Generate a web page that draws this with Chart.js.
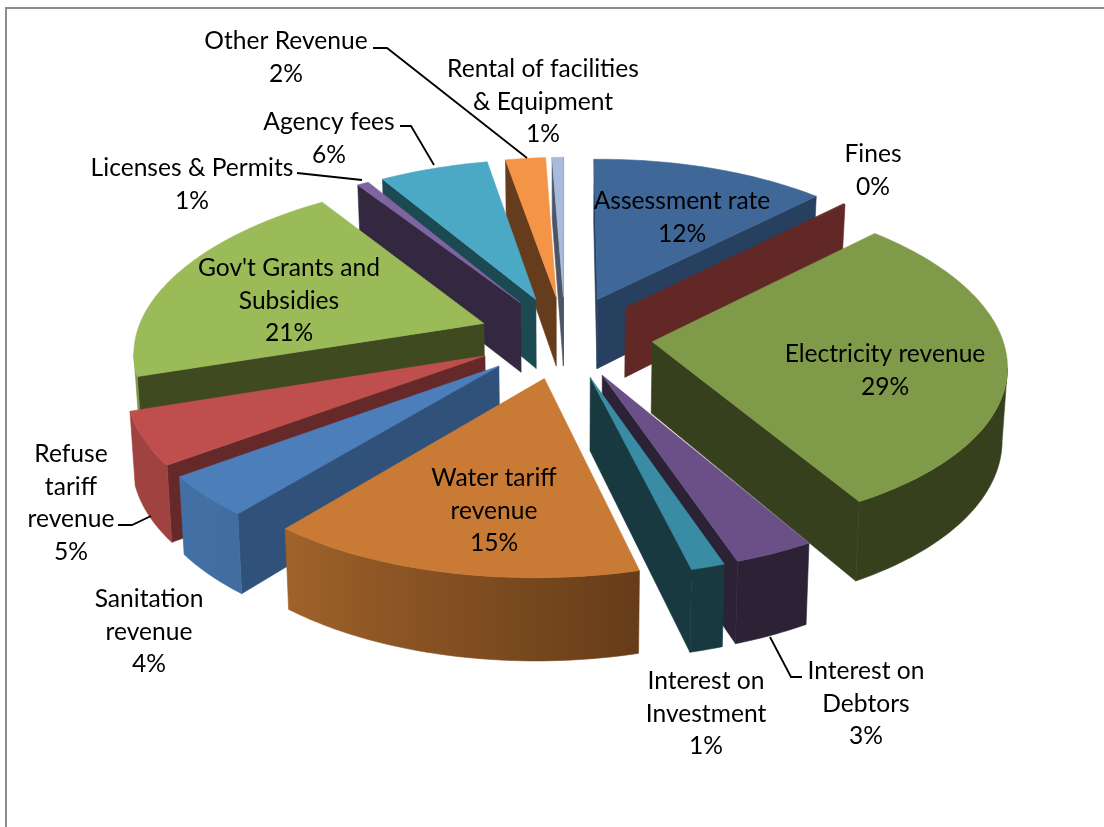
<!DOCTYPE html>
<html><head><meta charset="utf-8">
<style>html,body{margin:0;padding:0;background:#fff}canvas{display:block}</style>
<script src="https://cdn.jsdelivr.net/npm/chart.js@4"></script>
</head><body><canvas id="c" width="1104" height="827"></canvas>
<script>
const categories = ["Assessment rate","Fines","Electricity revenue","Interest on Debtors","Interest on Investment","Water tariff revenue","Sanitation revenue","Refuse tariff revenue","Gov't Grants and Subsidies","Licenses & Permits","Agency fees","Other Revenue","Rental of facilities & Equipment"];
const shares = [12.4,0.1,29.1,3.2,1.35,15.05,4.1,5.2,20.5,0.6,5.7,2.1,0.6];
const topColors = ["#3F6797","#622825","#7F9A48","#6A5086","#3A8CA5","#C97B36","#4C7EBA","#BE4F4C","#9BBB59","#8064A2","#4BA9C5","#F39446","#A9BBDC"];
const wallColors = ["#27405F","#622825","#36401D","#2C2236","#17393F","#643C18","#30527A","#65292A","#3F4A20","#33283F","#1C4A52","#663D1C","#4C5566"];
const labelLines = [["Assessment rate"],["Fines"],["Electricity revenue"],["Interest on","Debtors"],["Interest on","Investment"],["Water tariff","revenue"],["Sanitation","revenue"],["Refuse","tariff","revenue"],["Gov't Grants and","Subsidies"],["Licenses & Permits"],["Agency fees"],["Other Revenue"],["Rental of facilities","& Equipment"]];
const labelCenterX = [682,873,885,866,706,494,149,71,289,192,329,286,543];
const labelFirstY = [201,154,354,671,681,478,599,454,268,168,122,41,69];
const leaderLines = [
  [[373,48],[387,48],[527,158]],
  [[400,126],[411,126],[434,165]],
  [[297,173],[362,180]],
  [[118,525],[132,525],[151,516]],
  [[802,677],[791,677],[770,637]]
];
const view = {cx:565, cy:337, a:350, b:165, k:0.118, h:71, roll:-3, bow:2.7};

function rgb(h){return [1,3,5].map(i=>parseInt(h.substr(i,2),16));}
function mix(a,b,t){const A=rgb(a),B=rgb(b);return `rgb(${A.map((v,i)=>Math.round(v+(B[i]-v)*t)).join(',')})`;}
function project(X,Y,z){
  const s=1/(1-view.k*Y), sh=1-0.012*z;
  return [view.cx+view.a*X*s*sh, view.cy+view.b*Y*s+view.h*s*z+view.roll*X+view.bow*X*X];
}
function poly(ctx,pts,fill){
  ctx.beginPath();pts.forEach((p,i)=>i?ctx.lineTo(p[0],p[1]):ctx.moveTo(p[0],p[1]));ctx.closePath();
  ctx.fillStyle=fill;ctx.strokeStyle=fill;ctx.lineWidth=0.6;ctx.fill();ctx.stroke();
}
function rimShade(rad){
  const deg=((rad+Math.PI/2)*180/Math.PI+360)%360;
  return Math.max(0,Math.min(0.66,(deg-165)/60*0.66));
}
const pie3d = {
  id:'pie3d',
  beforeDatasetsDraw(chart){
    const ctx=chart.ctx, arcs=chart.getDatasetMeta(0).data;
    const items=arcs.map((el,i)=>{
      const p=el.getProps(['startAngle','endAngle','outerRadius'],true);
      const mid=(p.startAngle+p.endAngle)/2, e=el.options.offset/p.outerRadius;
      return {i,a0:p.startAngle,a1:p.endAngle,ox:e*Math.cos(mid),oy:e*Math.sin(mid)};
    }).sort((u,v)=>u.oy-v.oy);
    for(const it of items){
      const n=Math.max(2,Math.ceil((it.a1-it.a0)/0.02)), rim=[];
      for(let j=0;j<=n;j++){const t=it.a0+(it.a1-it.a0)*j/n;rim.push([it.ox+Math.cos(t),it.oy+Math.sin(t),t]);}
      const apex=[it.ox,it.oy], wc=wallColors[it.i], tc=topColors[it.i];
      const P=q=>project(q[0],q[1],0), Q=q=>project(q[0],q[1],1);
      const radial=(A,B)=>{ if(P(B)[0]-P(A)[0]<0) poly(ctx,[P(A),P(B),Q(B),Q(A)],wc); };
      radial(apex,rim[0]);
      radial(rim[n],apex);
      // front-facing part of the outer wall as one shaded band
      const run=[];
      for(let j=0;j<n;j++){ if(P(rim[j+1])[0]-P(rim[j])[0]<0){ if(!run.length) run.push(rim[j]); run.push(rim[j+1]); } }
      if(run.length>1){
        const xs=run.map(r=>P(r)[0]), x0=Math.min(...xs), x1=Math.max(...xs);
        const g=ctx.createLinearGradient(x0,0,x1,0);
        run.forEach((r,j)=>{ if(j%6===0||j===run.length-1) g.addColorStop(Math.max(0,Math.min(1,(xs[j]-x0)/Math.max(1,x1-x0))),mix(wc,tc,rimShade(r[2]))); });
        poly(ctx,[...run.map(P),...run.slice().reverse().map(Q)],g);
      }
      poly(ctx,[P(apex),...rim.map(P)],tc);
    }
    return false;
  },
  afterDraw(chart){
    const ctx=chart.ctx;
    ctx.save();
    ctx.strokeStyle='#8c8c8c';ctx.lineWidth=2;
    ctx.beginPath();ctx.moveTo(6,827);ctx.lineTo(6,8);ctx.lineTo(1104,8);ctx.stroke();
    ctx.strokeStyle='#000';ctx.lineWidth=1.8;
    leaderLines.forEach(l=>{ctx.beginPath();l.forEach((p,i)=>i?ctx.lineTo(p[0],p[1]):ctx.moveTo(p[0],p[1]));ctx.stroke();});
    ctx.fillStyle='#000';ctx.font='24.6px Lato';ctx.textAlign='center';ctx.textBaseline='middle';
    categories.forEach((c,i)=>{
      const lines=[...labelLines[i],Math.round(shares[i])+'%'];
      lines.forEach((t,j)=>ctx.fillText(t,labelCenterX[i],labelFirstY[i]+j*32.7));
    });
    ctx.restore();
  }
};
new Chart(document.getElementById('c'),{
  type:'pie',
  data:{labels:categories,datasets:[{data:shares,backgroundColor:topColors,offset:92,borderWidth:0}]},
  options:{responsive:false,animation:false,layout:{padding:0},plugins:{legend:{display:false},tooltip:{enabled:false}}},
  plugins:[pie3d]
});
</script></body></html>
